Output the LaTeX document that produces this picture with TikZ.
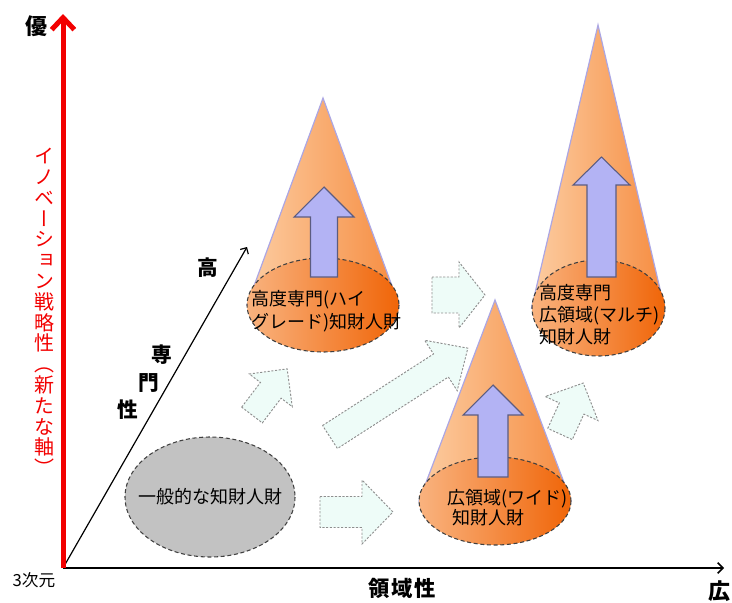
\documentclass[tikz,border=0pt]{standalone}
\usepackage{fontspec}
\setmainfont{Noto Sans CJK JP}
\newfontfamily\jpv[RawFeature=+vert]{Noto Sans CJK JP}
\usetikzlibrary{arrows.meta,shapes.geometric}
\definecolor{axred}{HTML}{F20000}
\definecolor{cyanfill}{HTML}{EEFCF8}
\definecolor{cyanline}{HTML}{8E8E8E}
\definecolor{conelight}{HTML}{FCCDA2}
\definecolor{conedark}{HTML}{F68C40}
\definecolor{conerim}{HTML}{ABA6E4}
\definecolor{baselight}{HTML}{F9B37F}
\definecolor{basedark}{HTML}{F06508}
\definecolor{bluefill}{HTML}{B3B3F4}
\definecolor{blueline}{HTML}{5C5C80}
\definecolor{grayfill}{HTML}{C2C2C2}
\begin{document}
\begin{tikzpicture}[x=0.75pt,y=-0.75pt,
  cyanarrow/.style={fill=cyanfill,draw=cyanline,line width=0.7pt,dash pattern=on 1.6pt off 1.2pt},
  conebody/.style={left color=conelight,right color=conedark,draw=conerim,line width=0.9pt},
  conebase/.style={left color=baselight,right color=basedark,draw=black!75,line width=0.8pt,dash pattern=on 3pt off 2pt},
  grayell/.style={fill=grayfill,draw=black!75,line width=0.8pt,dash pattern=on 3pt off 2pt},
  bluearrow/.style={fill=bluefill,draw=blueline,line width=0.8pt},
  conetext/.style={font=\fontsize{13.5}{17}\selectfont,inner sep=0pt,align=left,anchor=west},
  axislabel/.style={font=\bfseries\fontsize{16.5}{16.5}\selectfont,inner sep=0pt},
  pics/blockarrow/.style n args={4}{code={
    \draw[cyanarrow] (0,{-#2}) -- ({#1-#4},{-#2}) -- ({#1-#4},{-#3}) -- (#1,0)
      -- ({#1-#4},#3) -- ({#1-#4},#2) -- (0,#2) -- cycle;}}]
\useasboundingbox (0,0) rectangle (732,603);

% axes
\coordinate (O) at (63,568);
\coordinate (Ytop) at (63,14);
\coordinate (Xend) at (724,568);
\coordinate (Dend) at (247,247);
\draw[line width=1.1pt,-{Straight Barb[length=4pt,width=8pt]}] (O) -- (Xend);
\draw[line width=0.9pt,-{Straight Barb[length=3.5pt,width=7pt]}] (O) -- (Dend);
\draw[axred,line width=3.75pt,-{Straight Barb[length=9pt,width=17pt]}] (O) -- (Ytop);

\node[axislabel] (yu) at (36,26) {優};
\node[axislabel] (hiro) at (719,591) {広};
\node[axislabel,font=\bfseries\fontsize{16}{16}\selectfont\addfontfeature{LetterSpace=8}] (ryo) at (402,588) {領域性};
\node[inner sep=0pt,font=\fontsize{12.5}{13}\selectfont] (dim) at (34,580) {3次元};
\node[axislabel,font=\bfseries\fontsize{15.5}{15.5}\selectfont] (ko) at (208,268) {高};
\node[axislabel,font=\bfseries\fontsize{15.5}{15.5}\selectfont] (s1) at (162,355) {専};
\node[axislabel,font=\bfseries\fontsize{15.5}{15.5}\selectfont] (s2) at (149,383) {門};
\node[axislabel,font=\bfseries\fontsize{15.5}{15.5}\selectfont] (s3) at (128,410) {性};
\node[inner sep=0pt,align=center,text=axred,font=\jpv\fontsize{15}{15.6}\selectfont] (innov) at (44,312)
  {イ\\ノ\\ベ\\ー\\シ\\ョ\\ン\\戦\\略\\性\\（\\新\\た\\な\\軸\\）};

% general staff
\draw[grayell] (210,497) ellipse [x radius=85,y radius=60];
\node[inner sep=0pt,font=\fontsize{13.5}{14}\selectfont] (gen) at (210,497) {一般的な知財人財};

% transition arrows
\pic at (320,512) {blockarrow={73}{15.5}{32}{31}};
\pic at (432,295) {blockarrow={53}{18}{33}{26}};
\pic[rotate=32.8] at (330,437) {blockarrow={164}{13.7}{30}{32}};
\pic[rotate=52.7] at (252,415) {blockarrow={58}{13}{27}{27}};
\pic[rotate=65.5] at (560,434) {blockarrow={56}{13.5}{29}{28}};

% cone 1
\coordinate (a1) at (323,98);
\draw[conebody] (a1) -- (247,305) -- (399,305) -- cycle;
\draw[conebase] (323,305) ellipse [x radius=76,y radius=47];
\draw[bluearrow] (310.5,277) -- (310.5,217) -- (294,217) -- (324,187) -- (354,217) -- (337.5,217) -- (337.5,277) -- cycle;
\node[conetext,font=\fontsize{13.5}{17.25}\selectfont] (t1) at (251,311.5) {高度専門(ハイ\\グレード)知財人財};

% cone 2
\coordinate (a2) at (598,25);
\draw[conebody] (a2) -- (531.5,308) -- (664.5,308) -- cycle;
\draw[conebase] (598.5,308) ellipse [x radius=66.5,y radius=48];
\draw[bluearrow] (587,277) -- (587,185) -- (573,185) -- (601.5,157) -- (630,185) -- (616,185) -- (616,277) -- cycle;
\node[conetext,font=\fontsize{13.5}{16.5}\selectfont] (t2) at (539,315) {高度専門\\広領域(マルチ)\\知財人財};

% cone 3
\coordinate (a3) at (495,300);
\draw[conebody] (a3) -- (419,501) -- (571,501) -- cycle;
\draw[conebase] (495,501) ellipse [x radius=76,y radius=44];
\draw[bluearrow] (478,477) -- (478,415) -- (463,415) -- (493,385) -- (523,415) -- (508,415) -- (508,477) -- cycle;
\node[conetext,font=\fontsize{13.5}{15}\selectfont] (t3) at (447,508) {広領域(ワイド)\\\hspace*{3.75pt}知財人財};
\end{tikzpicture}
\end{document}
